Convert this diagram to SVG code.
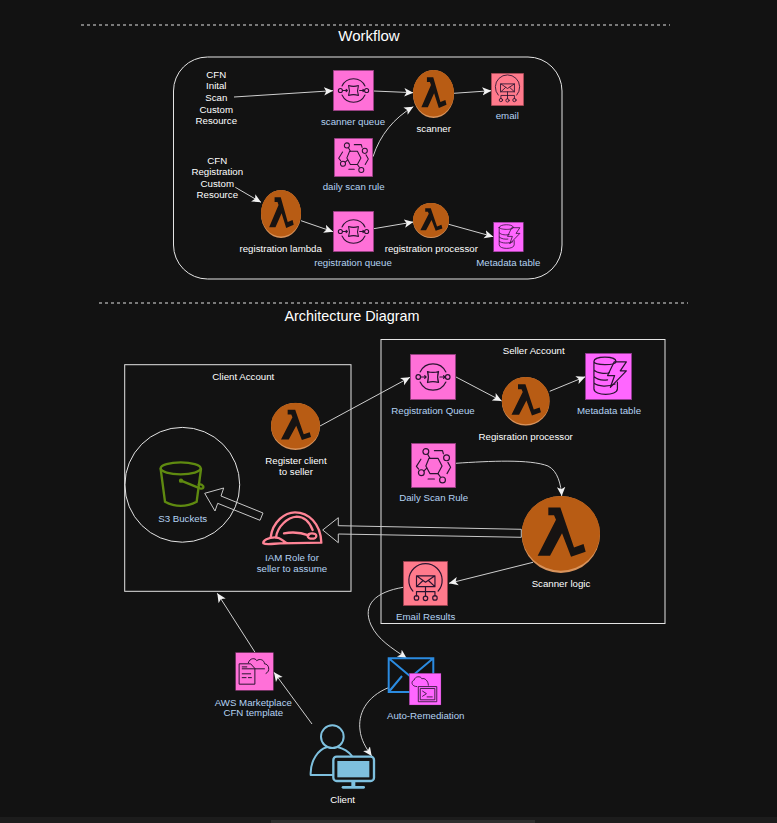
<svg xmlns="http://www.w3.org/2000/svg" width="777" height="823" viewBox="0 0 777 823">
<style>
text{font-family:"Liberation Sans",Arial,sans-serif;font-size:9.7px;text-anchor:middle;dominant-baseline:central}
.w{fill:#ffffff}
.b{fill:#b4d2f2}
.h{fill:#ffffff;font-size:14.4px}
.c{fill:none;stroke:#cfcfcf;stroke-width:1;marker-end:url(#arr)}
.box{fill:none;stroke:#e4e4e4;stroke-width:1}
.dash{fill:none;stroke:#e0e0e0;stroke-width:1;stroke-dasharray:3 3}
.blk{fill:none;stroke:#c8c8c8;stroke-width:1}
.i{fill:none;stroke:#2a1430;stroke-width:2.6;stroke-linecap:round;stroke-linejoin:round}
</style>
<defs>
<marker id="arr" markerUnits="userSpaceOnUse" markerWidth="12" markerHeight="12" refX="9" refY="5" orient="auto"><path d="M0 0.8L9 5L0 9.2L2.2 5Z" fill="#f2f2f2"/></marker>
<symbol id="sym-lambda" viewBox="0 0 100 100" preserveAspectRatio="none">
<ellipse cx="50" cy="50" rx="50" ry="50" fill="#d8935c"/>
<ellipse cx="50" cy="48.5" rx="50" ry="48.5" fill="#b85c14"/>
<path d="M34 15H49.4L66.8 66.8L79 62.4L81.7 72.5L63 79L51.5 48.5L36.2 77.7H20.4L43.8 31L41.3 25H34Z" fill="#171312"/>
</symbol>
<symbol id="sym-queue" viewBox="0 0 100 100">
<rect x="0.8" y="0.8" width="98.4" height="98.4" fill="#ff70d8" stroke="#8a3a78" stroke-width="1.6"/>
<path class="i" d="M22 39A31 31 0 0 1 78 39M78 61A31 31 0 0 1 22 61"/>
<circle class="i" cx="18" cy="50" r="5"/><circle class="i" cx="82" cy="50" r="5"/>
<path class="i" d="M38 38Q50 42 62 38Q58 50 62 62Q50 58 38 62Q42 50 38 38ZM23 50H35M65 50H77M32 47L35 50L32 53M73 47L76 50L73 53"/>
</symbol>
<symbol id="sym-rule" viewBox="0 0 100 100">
<rect x="0.8" y="0.8" width="98.4" height="98.4" fill="#ff70d8" stroke="#8a3a78" stroke-width="1.6"/>
<path class="i" d="M40 34H60L69 51L60 68H42L33 51Z"/>
<circle class="i" cx="33" cy="19" r="6.5"/><circle class="i" cx="79" cy="33" r="6.5"/><circle class="i" cx="23" cy="66" r="6.5"/><circle class="i" cx="70" cy="82" r="6.5"/>
<path class="i" d="M37 25L42 34M29 62L35 56M65 75L60 68M52 17H70L72 24M82 43L88 54L80 68M22 36L12 52L17 58M38 80H52"/>
</symbol>
<symbol id="sym-email" viewBox="0 0 100 100">
<rect x="0.8" y="0.8" width="98.4" height="98.4" fill="#ff7a8c" stroke="#8f3b47" stroke-width="1.6"/>
<path class="i" d="M22 67A37 37 0 1 1 78 67"/>
<path class="i" d="M30 33H71V57H30ZM30 33L50 47L71 33M30 57L44 44M71 57L57 44M50 57V68M30 78V68H71V78M50 68V78"/>
<circle class="i" cx="30" cy="82" r="5"/><circle class="i" cx="50" cy="83" r="5"/><circle class="i" cx="71" cy="82" r="5"/>
</symbol>
<symbol id="sym-dynamo" viewBox="0 0 100 100">
<rect x="0.8" y="0.8" width="98.4" height="98.4" fill="#ff66ff" stroke="#8a3a8a" stroke-width="1.6"/>
<path class="i" d="M19 18C19 6 66 6 66 18C66 27 19 27 19 18ZM19 18V76C19 92 69 92 69 76V62M19 36C26 44 44 44 52 42M19 50C26 57 40 58 48 57M19 64C28 72 50 72 64 66"/>
<path class="i" d="M62 19H88L75 38H88L54 73L63 48H48Z"/>
</symbol>
<symbol id="sym-tmpl" viewBox="0 0 100 100">
<rect x="0.8" y="0.8" width="98.4" height="98.4" fill="#ff70d8" stroke="#8a3a78" stroke-width="1.6"/>
<path class="i" d="M11 30H40L51 42V83H11ZM18 38H30M18 43H76M18 56H40M18 66H28M34 66H42"/>
<path class="i" d="M34 27C38 14 52 14 56 22C63 15 76 20 76 30C88 30 92 50 80 55"/>
</symbol>
<symbol id="sym-shell" viewBox="0 0 100 100">
<rect x="0.8" y="0.8" width="98.4" height="98.4" fill="#ff66ff" stroke="#8a3a8a" stroke-width="1.6"/>
<path class="i" d="M30 42H86V89H30ZM36 48H80V83H36ZM42 56L54 64L42 72M56 74H72"/>
<path class="i" d="M24 42C6 42 6 24 16 22C18 10 36 8 40 18C48 14 60 24 60 38"/>
</symbol>
</defs>
<rect id="bg" width="777" height="823" fill="#121212"/>
<rect id="bar" y="817" width="777" height="6" fill="#1c1c1c"/>
<rect id="thumb" x="271" y="820" width="264" height="3" fill="#2e2e2e"/>

<g id="workflow-frame">
<path class="dash" d="M81 25H670"/>
<text class="h" style="font-size:15px" x="369" y="35.5">Workflow</text>
<rect class="box" x="173.5" y="57" width="388.5" height="222" rx="34"/>
</g>
<g id="arch-frame">
<path class="dash" d="M99 303H688"/>
<text class="h" x="352" y="316">Architecture Diagram</text>
</g>
<g id="client-account"><rect class="box" x="124.7" y="364.7" width="226.3" height="226.6"/><text class="w" x="243.3" y="376.7">Client Account</text></g>
<g id="seller-account"><rect class="box" x="381" y="339.5" width="284" height="284"/><text class="w" x="533.7" y="350.7">Seller Account</text></g>
<g id="s3-circle"><circle class="box" cx="182.3" cy="484.8" r="57.4"/></g>

<g id="connectors">
<path class="c" d="M234 97L333 90.7"/>
<path class="c" d="M373.7 91L413.3 92.7"/>
<path class="c" d="M453.7 93.3L491.3 90.7"/>
<path class="c" d="M373 156.7C380 135 394 118 413.3 106.7"/>
<path class="c" d="M235.3 187.3L261 202.3"/>
<path class="c" d="M301 220.7L333 231.7"/>
<path class="c" d="M373.7 228.7L413.3 222"/>
<path class="c" d="M448.7 224.3L493.3 236.7"/>
<path class="c" d="M320 426L410 377.3"/>
<path class="c" d="M456 377L501.7 401"/>
<path class="c" d="M549.7 391.3L585.3 376.7"/>
<path class="c" d="M455.7 463.3C490 461 530 459 548 466C558 471 561 485 561.7 496"/>
<path class="c" d="M533 562.3L449 583.3"/>
<path class="c" d="M403.3 587.3C375 592 362 605 371 625C378 640 392 648 406.7 658.3"/>
<path class="c" d="M389.3 687.3C365 697 358 715 360 730C361 740 366 748 371.7 756"/>
<path class="c" d="M312 724L274 672.3"/>
<path class="c" d="M255 652.3L217.3 593.3"/>
<polygon class="blk" points="204.7,493.3 223.7,488 221,496 263,513 260,520.3 217.7,503.3 215,511"/>
<polygon class="blk" points="322.7,530 338.3,517.7 338.3,525.7 521.3,529.3 521.3,537.3 338.3,534 338.3,542.7"/>
</g>

<g id="cfn-initial"><text class="w" x="216.3" y="74.3">CFN</text><text class="w" x="216.3" y="85.7">Inital</text><text class="w" x="216.3" y="97.7">Scan</text><text class="w" x="216.3" y="109.7">Custom</text><text class="w" x="216.3" y="120.7">Resource</text></g>
<g id="cfn-registration"><text class="w" x="217.3" y="160.3">CFN</text><text class="w" x="217.3" y="171.7">Registration</text><text class="w" x="217.3" y="183.7">Custom</text><text class="w" x="217.3" y="194.7">Resource</text></g>
<g id="scanner-queue"><use href="#sym-queue" x="333" y="70" width="41" height="41"/><text class="b" x="353" y="121.7">scanner queue</text></g>
<g id="scanner"><use href="#sym-lambda" x="413" y="70" width="41" height="48"/><text class="w" x="433.7" y="128.7">scanner</text></g>
<g id="email"><use href="#sym-email" x="491" y="73" width="33" height="33"/><text class="b" x="507.3" y="115.7">email</text></g>
<g id="daily-scan-rule"><use href="#sym-rule" x="334" y="138" width="39" height="39"/><text class="b" x="353.7" y="186.7">daily scan rule</text></g>
<g id="registration-lambda"><use href="#sym-lambda" x="261" y="190" width="40" height="48"/><text class="w" x="280.7" y="248.7">registration lambda</text></g>
<g id="registration-queue"><use href="#sym-queue" x="333" y="211" width="41" height="41"/><text class="b" x="353" y="262.7">registration queue</text></g>
<g id="registration-processor"><use href="#sym-lambda" x="413" y="203" width="36" height="35"/><text class="w" x="431.3" y="248.7">registration processor</text></g>
<g id="metadata-small"><use href="#sym-dynamo" x="493" y="222" width="31" height="30"/><text class="b" x="508.3" y="262.7">Metadata table</text></g>

<g id="register-client"><use href="#sym-lambda" x="271" y="402.7" width="49" height="47.3"/><text class="w" x="296" y="460.7">Register client</text><text class="w" x="296" y="471.7">to seller</text></g>
<g id="s3-buckets"><g transform="translate(120 360) scale(.33333)" fill="none" stroke="#5f8a10" stroke-width="7" stroke-linecap="round"><ellipse cx="182" cy="325" rx="60" ry="18"/><path d="M122 327L135 425Q182 450 230 425L243 327"/><path d="M183 362L240 385Q252 388 250 379Q246 372 236 373"/><circle cx="183" cy="362" r="3" fill="#5f8a10"/></g><text class="b" x="182.7" y="518.7">S3 Buckets</text></g>
<g id="iam-role"><g transform="translate(200 480) scale(.33333)" fill="none" stroke="#ff8496" stroke-width="7" stroke-linejoin="round" stroke-linecap="round"><path d="M212 172C218 125 255 97 285 97C325 97 362 130 364 188L240 190C225 190 200 196 190 190C188 182 205 172 225 172C245 172 250 186 262 190"/><path d="M228 172C232 140 262 112 290 110C310 110 328 125 338 150"/><path d="M252 160C280 155 310 160 326 166"/><ellipse cx="336" cy="168" rx="13" ry="8"/></g><text class="b" x="292" y="557.7">IAM Role for</text><text class="b" x="292" y="568.7">seller to assume</text></g>
<g id="registration-queue-2"><use href="#sym-queue" x="410" y="354" width="46" height="46"/><text class="b" x="433" y="410.7">Registration Queue</text></g>
<g id="registration-processor-2"><use href="#sym-lambda" x="501.7" y="377" width="48" height="48.7"/><text class="w" x="525.7" y="436.7">Regisration processor</text></g>
<g id="metadata-table"><use href="#sym-dynamo" x="585" y="353" width="47" height="47"/><text class="b" x="609" y="410.7">Metadata table</text></g>
<g id="daily-scan-rule-2"><use href="#sym-rule" x="411" y="443" width="45" height="45"/><text class="b" x="433.7" y="497.7">Daily Scan Rule</text></g>
<g id="scanner-logic"><use href="#sym-lambda" x="521.7" y="496" width="78.3" height="77"/><text class="w" x="561" y="583.7">Scanner logic</text></g>
<g id="email-results"><use href="#sym-email" x="403" y="561" width="45" height="45"/><text class="b" x="425.7" y="616.7">Email Results</text></g>
<g id="aws-marketplace"><use href="#sym-tmpl" x="235.3" y="652.3" width="38.4" height="38.4"/><text class="b" x="253.3" y="702">AWS Marketplace</text><text class="b" x="253.3" y="712.7">CFN template</text></g>
<g id="auto-remediation"><path d="M388.7 658.3H433.3V692H388.7ZM388.7 658.3L411 677L433.3 658.3M388.7 692L402 676" fill="#121212" stroke="#2b8be0" stroke-width="2"/><use href="#sym-shell" x="409" y="673" width="32.3" height="32.3"/><text class="b" x="425.7" y="715.7">Auto-Remediation</text></g>
<g id="client"><g transform="translate(305 720) scale(.33333)" fill="none" stroke="#7ec0de" stroke-width="6" stroke-linecap="round" stroke-linejoin="round"><circle cx="82" cy="50" r="34"/><path d="M17 165C15 120 42 88 65 82M100 82C115 86 130 95 140 107M17 165H84"/><rect x="85" y="110" width="122" height="73" rx="10" stroke-width="7"/><rect x="97" y="123" width="96" height="49" fill="#7ec0de" stroke="none"/><path d="M145 183V198" stroke-width="12" stroke-linecap="butt"/><path d="M114 202H176" stroke-width="8"/></g><text class="w" x="342.7" y="799.7">Client</text></g>
</svg>
